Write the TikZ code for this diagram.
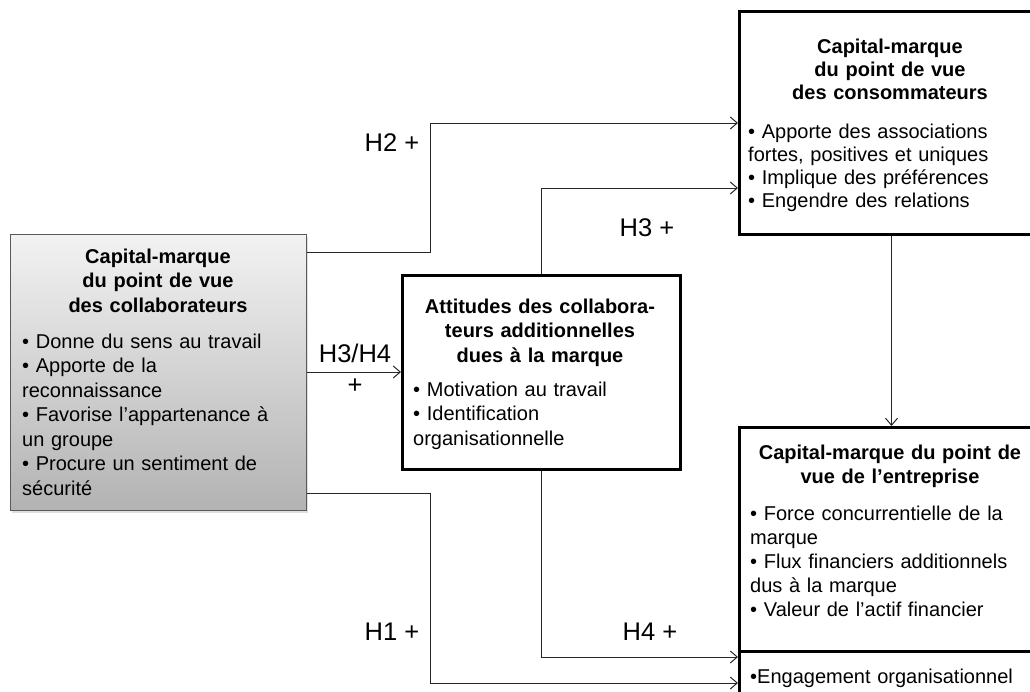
\documentclass[tikz,border=0pt]{standalone}
\usepackage{fontspec}
\setmainfont{Liberation Sans}
\usetikzlibrary{arrows.meta,positioning,shadows}

\tikzset{
  box/.style={draw=black,line width=3pt,fill=white,inner sep=0pt},
  sharebox/.style={draw=black!65,line width=1pt,inner sep=0pt,
    top color=black!5,bottom color=black!30,
    drop shadow={opacity=0.25,shadow xshift=1.5pt,shadow yshift=-2pt}},
  boxtitle/.style={font=\bfseries\fontsize{20}{24.5}\selectfont,
    text width=#1,align=center,anchor=base,inner sep=0pt},
  items/.style={font=\fontsize{20}{24.5}\selectfont,
    text width=#1,align=left,anchor=base west,inner sep=0pt},
  link/.style={draw=black!85,line width=1pt,-{Straight Barb[length=7pt,width=12pt]}},
  hyp/.style={font=\fontsize{25.5}{30}\selectfont,inner sep=0pt}
}

\begin{document}
\begin{tikzpicture}[x=1pt,y=-1pt]
  \useasboundingbox (0,0) rectangle (1030,691);
  \clip (0,0) rectangle (1030,691);

  % boxes
  \node[sharebox,minimum width=296pt,minimum height=276pt,anchor=north west] (collab) at (10,234) {};
  \node[box,minimum width=278pt,minimum height=194pt,anchor=north west] (attit) at (401,274) {};
  \node[box,minimum width=304pt,minimum height=223pt,anchor=north west] (cons) at (738,10) {};
  \node[box,minimum width=304pt,minimum height=290pt,anchor=north west] (entr) at (738,426) {};
  \draw[line width=3pt] (entr.west |- 0,651) -- (entr.east |- 0,651);

  % texts
  \node[boxtitle=280pt] (collabT) at (158,263) {Capital-marque\\du point de vue\\des collaborateurs};
  \node[items=285pt] (collabL) at (22,348) {• Donne du sens au travail\\• Apporte de la\\reconnaissance\\• Favorise l’appartenance à\\un groupe\\• Procure un sentiment de\\sécurité};

  \node[boxtitle=270pt] (attitT) at (540,313) {Attitudes des collabora-\\teurs additionnelles\\dues à la marque};
  \node[items=265pt] (attitL) at (413,396) {• Motivation au travail\\• Identification\\organisationnelle};

  \node[boxtitle=290pt,font=\bfseries\fontsize{20}{23}\selectfont] (consT) at (890,53) {Capital-marque\\du point de vue\\des consommateurs};
  \node[items=290pt,font=\fontsize{20}{23}\selectfont] (consL) at (748,138) {• Apporte des associations\\fortes, positives et uniques\\• Implique des préférences\\• Engendre des relations};

  \node[boxtitle=290pt,font=\bfseries\fontsize{20}{24}\selectfont] (entrT) at (890,459) {Capital-marque du point de\\vue de l’entreprise};
  \node[items=285pt,font=\fontsize{20}{24}\selectfont] (entrL) at (750,520) {• Force concurrentielle de la\\marque\\• Flux financiers additionnels\\dus à la marque\\• Valeur de l’actif financier};
  \node[items=285pt] (entrE) at (750,683) {•Engagement organisationnel};

  % hypotheses
  \draw[link] (collab.east |- 0,252) -| (430,123) -- (cons.west |- 0,123);
  \draw[link] (attit.north) |- (cons.west |- 0,188);
  \draw[link] (collab.east |- 0,372) -- (attit.west |- 0,372);
  \draw[link] (cons.south) -- (entr.north);
  \draw[link] (collab.east |- 0,493) -| (430,683) -- (entr.west |- 0,683);
  \draw[link] (attit.south) |- (entr.west |- 0,657);

  \node[hyp] (h2) at (392,143) {H2 +};
  \node[hyp] (h3) at (647,228) {H3 +};
  \node[hyp] (h34) at (355,353) {H3/H4};
  \node[hyp] (h34p) at (355,386) {+};
  \node[hyp] (h1) at (392,632) {H1 +};
  \node[hyp] (h4) at (650,632) {H4 +};
\end{tikzpicture}
\end{document}
